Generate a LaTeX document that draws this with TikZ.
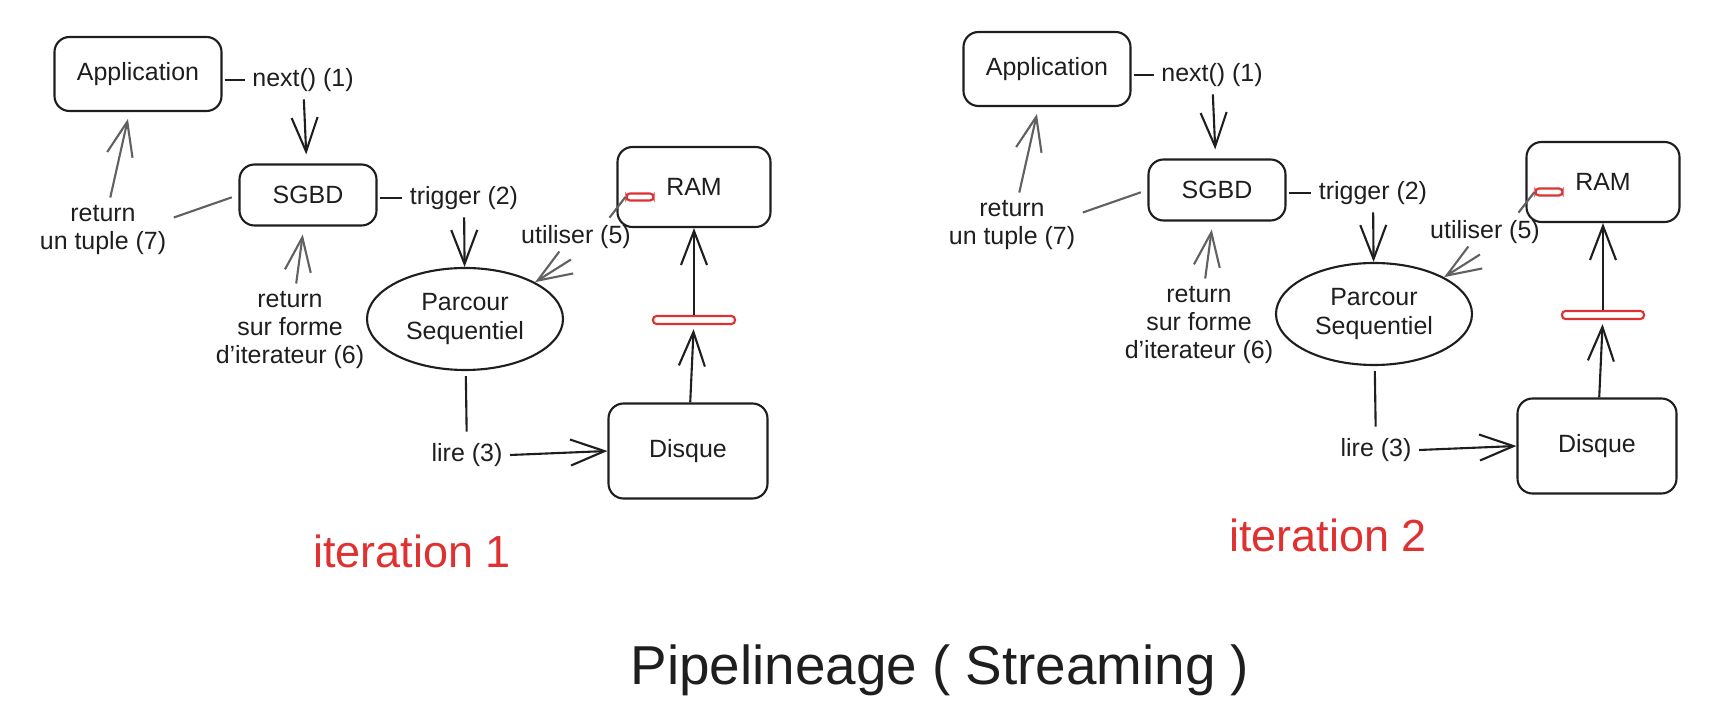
\documentclass[tikz,border=0pt]{standalone}
\usepackage{fontspec}
\setmainfont{Liberation Sans}
\usetikzlibrary{arrows.meta,shapes.geometric}

\definecolor{ink}{HTML}{1E1E1E}
\definecolor{exred}{HTML}{E03131}

\newcommand{\lblfont}{\fontsize{7.1pt}{8pt}\selectfont}
\newcommand{\iterfont}{\fontsize{12.8pt}{14pt}\selectfont}
\newcommand{\pipetitle}{\fontsize{15.6pt}{18pt}\selectfont}

\tikzset{
  box/.style={draw=ink, line width=0.6pt, rounded corners=0.15cm, inner sep=0pt},
  oval/.style={draw=ink, line width=0.6pt, ellipse, inner sep=0pt, align=center},
  redbox/.style={draw=exred, line width=0.6pt, rounded corners=1pt, fill=white, inner sep=0pt},
  lab/.style={inner sep=0.07cm, align=center},
  arr/.style={draw=ink, line width=0.6pt, -{Straight Barb[length=0.34cm,width=0.26cm]}},
  back/.style={arr, draw=ink!70},
  plain/.style={draw=ink, line width=0.6pt},
}

\begin{document}
\begin{tikzpicture}[font=\lblfont, text=ink]
\useasboundingbox (0,0) rectangle (17.31,-7.28);

% iteration 1
\node[box, minimum width=1.67cm, minimum height=0.74cm] (app1) at (1.38, -0.74) {Application};
\node[lab] (nxt1) at (3.03, -0.80) {next() (1)};
\node[box, minimum width=1.37cm, minimum height=0.61cm] (sgbd1) at (3.08, -1.95) {SGBD};
\node[lab] (trig1) at (4.64, -1.98) {trigger (2)};
\node[oval, minimum width=1.96cm, minimum height=1.02cm] (parc1) at (4.65, -3.19) {Parcour\\Sequentiel};
\node[lab] (tup1) at (1.03, -2.30) {return\\un tuple (7)};
\node[lab] (itr1) at (2.90, -3.30) {return\\sur forme\\d'iterateur (6)};
\node[lab] (util1) at (5.76, -2.37) {utiliser (5)};
\node[lab] (lire1) at (4.67, -4.55) {lire (3)};
\node[box, minimum width=1.59cm, minimum height=0.95cm] (disq1) at (6.88, -4.51) {Disque};
\node[box, minimum width=1.53cm, minimum height=0.80cm] (ram1) at (6.94, -1.87) {RAM};
\node[redbox, minimum width=0.82cm, minimum height=0.08cm] (buf1) at (6.94, -3.20) {};
\node[redbox, minimum width=0.27cm, minimum height=0.07cm] (slot1) at (6.40, -1.97) {};
\node[font=\iterfont, text=exred] (lab1) at (4.12, -5.51) {iteration 1};

\draw[plain, shorten <=0.02cm] (app1.east |- nxt1) -- (nxt1);
\draw[arr, shorten >=0.09cm] (nxt1) -- (sgbd1);
\draw[plain, shorten <=0.02cm] (sgbd1.east |- trig1) -- (trig1);
\draw[arr] (trig1) -- (parc1);
\draw[back, -, shorten <=0.07cm] (sgbd1.west) -- (tup1.10);
\draw[back, shorten >=0.07cm] (tup1) -- (app1);
\draw[back, shorten >=0.08cm] (itr1) -- (sgbd1);
\draw[back, -] (util1.30) -- (slot1.west);
\draw[back, shorten <=0.06cm] (util1.south) -- (parc1.north east);
\draw[plain, shorten <=0.05cm, shorten >=0.04cm] (parc1) -- (lire1);
\draw[arr] (lire1.east) -- (disq1.west);
\draw[arr, shorten >=0.04cm] (disq1) -- (buf1);
\draw[arr] (buf1) -- (ram1);

% iteration 2
\node[box, minimum width=1.67cm, minimum height=0.74cm] (app2) at (10.47, -0.69) {Application};
\node[lab] (nxt2) at (12.12, -0.75) {next() (1)};
\node[box, minimum width=1.37cm, minimum height=0.61cm] (sgbd2) at (12.17, -1.90) {SGBD};
\node[lab] (trig2) at (13.73, -1.93) {trigger (2)};
\node[oval, minimum width=1.96cm, minimum height=1.02cm] (parc2) at (13.74, -3.14) {Parcour\\Sequentiel};
\node[lab] (tup2) at (10.12, -2.25) {return\\un tuple (7)};
\node[lab] (itr2) at (11.99, -3.25) {return\\sur forme\\d'iterateur (6)};
\node[lab] (util2) at (14.85, -2.32) {utiliser (5)};
\node[lab] (lire2) at (13.76, -4.50) {lire (3)};
\node[box, minimum width=1.59cm, minimum height=0.95cm] (disq2) at (15.97, -4.46) {Disque};
\node[box, minimum width=1.53cm, minimum height=0.80cm] (ram2) at (16.03, -1.82) {RAM};
\node[redbox, minimum width=0.82cm, minimum height=0.08cm] (buf2) at (16.03, -3.15) {};
\node[redbox, minimum width=0.27cm, minimum height=0.07cm] (slot2) at (15.49, -1.92) {};
\node[font=\iterfont, text=exred] (lab2) at (13.28, -5.35) {iteration 2};

\draw[plain, shorten <=0.02cm] (app2.east |- nxt2) -- (nxt2);
\draw[arr, shorten >=0.09cm] (nxt2) -- (sgbd2);
\draw[plain, shorten <=0.02cm] (sgbd2.east |- trig2) -- (trig2);
\draw[arr] (trig2) -- (parc2);
\draw[back, -, shorten <=0.07cm] (sgbd2.west) -- (tup2.10);
\draw[back, shorten >=0.07cm] (tup2) -- (app2);
\draw[back, shorten >=0.08cm] (itr2) -- (sgbd2);
\draw[back, -] (util2.30) -- (slot2.west);
\draw[back, shorten <=0.06cm] (util2.south) -- (parc2.north east);
\draw[plain, shorten <=0.05cm, shorten >=0.04cm] (parc2) -- (lire2);
\draw[arr] (lire2.east) -- (disq2.west);
\draw[arr, shorten >=0.04cm] (disq2) -- (buf2);
\draw[arr] (buf2) -- (ram2);

\node[font=\pipetitle] (title) at (9.40, -6.70) {Pipelineage ( Streaming )};
\end{tikzpicture}
\end{document}
